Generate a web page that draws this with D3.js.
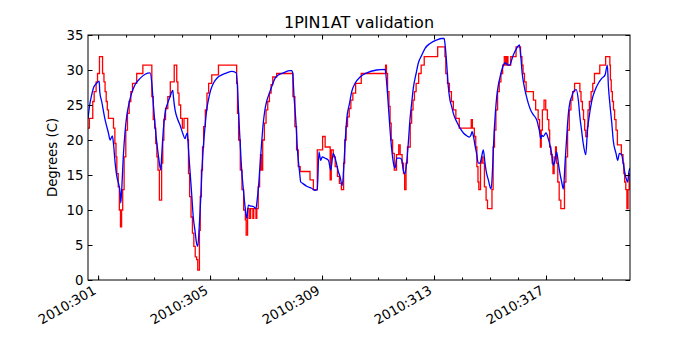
<!DOCTYPE html>
<html>
<head>
<meta charset="utf-8">
<script src="https://cdn.jsdelivr.net/npm/d3@7"></script>
<style>
  body { margin: 0; background: white; }
  text { font-family: "DejaVu Sans", sans-serif; }
</style>
</head>
<body>
<svg id="chart"></svg>
<script>
const svgWidth = 700;
const svgHeight = 350;

// observed temperature (red step line), [day of year, degrees C]
const observed = [
  [300.64, 21.7], [300.69, 23.1], [300.81, 25.5], [300.86, 26.9], [300.93, 28.3], [300.98, 29.5],
  [301.05, 31.9], [301.16, 29.5], [301.21, 28.3], [301.25, 26.9], [301.29, 25.5], [301.33, 24.3],
  [301.37, 23.1], [301.55, 21.7], [301.60, 19.5], [301.64, 17.6], [301.67, 15.2], [301.72, 13.3],
  [301.76, 10.0], [301.80, 7.6], [301.84, 10.0], [301.88, 12.9], [301.93, 17.6], [301.99, 21.4],
  [302.05, 23.8], [302.11, 25.5], [302.17, 26.9], [302.23, 28.1], [302.38, 29.5], [302.60, 30.7],
  [302.92, 26.2], [302.97, 22.9], [303.02, 21.7], [303.06, 19.5], [303.10, 17.6], [303.14, 15.7],
  [303.19, 11.4], [303.27, 16.7], [303.31, 20.0], [303.35, 22.9], [303.41, 24.5], [303.49, 26.2],
  [303.58, 28.3], [303.72, 30.7], [303.81, 28.3], [303.85, 26.7], [303.89, 25.0], [303.95, 23.1],
  [304.01, 21.7], [304.07, 23.1], [304.20, 20.0], [304.23, 15.2], [304.27, 11.9], [304.32, 9.0],
  [304.37, 6.7], [304.42, 4.8], [304.47, 3.3], [304.52, 2.9], [304.56, 1.4], [304.62, 7.1],
  [304.65, 11.9], [304.69, 15.7], [304.73, 19.0], [304.77, 21.9], [304.83, 24.3], [304.89, 26.7],
  [304.95, 28.1], [305.06, 29.3], [305.30, 30.7], [305.95, 28.1], [305.98, 23.8], [306.02, 20.0],
  [306.08, 15.7], [306.14, 12.9], [306.20, 10.0], [306.26, 8.6], [306.29, 6.4], [306.34, 10.2],
  [306.40, 8.8], [306.45, 10.2], [306.53, 8.8], [306.56, 10.2], [306.64, 8.8], [306.67, 10.2],
  [306.72, 13.3], [306.77, 15.7], [306.80, 17.9], [306.84, 15.7], [306.88, 20.0], [306.94, 22.4],
  [307.00, 24.3], [307.06, 25.5], [307.12, 26.7], [307.18, 27.9], [307.24, 29.0], [307.38, 29.5],
  [307.96, 26.2], [308.03, 21.9], [308.09, 18.6], [308.15, 16.2], [308.22, 15.5], [308.57, 14.3],
  [308.69, 12.9], [308.83, 18.6], [309.02, 20.5], [309.11, 19.0], [309.29, 14.3], [309.33, 18.6],
  [309.40, 17.6], [309.47, 16.2], [309.55, 14.8], [309.62, 13.8], [309.69, 12.9], [309.77, 16.7],
  [309.81, 20.0], [309.86, 21.9], [309.91, 23.3], [309.97, 24.5], [310.03, 25.7], [310.10, 26.7],
  [310.20, 28.1], [310.40, 29.5], [311.27, 30.7], [311.30, 29.5], [311.34, 26.9], [311.39, 24.8],
  [311.43, 22.4], [311.47, 20.0], [311.52, 18.1], [311.58, 15.7], [311.66, 17.9], [311.74, 19.3],
  [311.79, 17.9], [311.86, 16.7], [311.91, 15.2], [311.95, 12.9], [312.00, 16.7], [312.05, 19.0],
  [312.15, 22.4], [312.20, 24.3], [312.25, 25.7], [312.30, 26.9], [312.36, 28.1], [312.45, 29.5],
  [312.54, 30.7], [312.65, 31.9], [313.13, 33.3], [313.39, 31.9], [313.42, 29.5], [313.48, 28.1],
  [313.55, 26.9], [313.62, 25.5], [313.69, 24.3], [313.78, 23.1], [313.90, 21.7], [314.33, 22.9],
  [314.37, 21.7], [314.44, 20.5], [314.49, 19.0], [314.53, 16.2], [314.57, 14.0], [314.60, 12.9],
  [314.66, 16.7], [314.70, 17.6], [314.75, 16.7], [314.80, 13.3], [314.86, 11.4], [314.91, 10.2],
  [315.07, 12.9], [315.11, 19.0], [315.16, 21.4], [315.21, 24.3], [315.27, 26.9], [315.33, 28.3],
  [315.39, 29.5], [315.45, 30.7], [315.51, 31.9], [315.56, 30.7], [315.60, 31.9], [315.64, 30.7],
  [315.74, 31.9], [315.93, 33.3], [316.09, 31.9], [316.14, 30.7], [316.18, 29.5], [316.23, 28.3],
  [316.29, 26.9], [316.55, 25.7], [316.63, 24.3], [316.72, 22.9], [316.77, 21.4], [316.80, 19.0],
  [316.83, 21.4], [316.87, 24.3], [316.93, 25.7], [316.99, 24.3], [317.05, 22.9], [317.10, 21.4],
  [317.13, 19.0], [317.17, 17.9], [317.22, 16.7], [317.25, 15.2], [317.29, 17.6], [317.34, 19.0],
  [317.37, 16.7], [317.42, 14.0], [317.47, 11.4], [317.53, 10.2], [317.66, 14.0], [317.71, 17.6],
  [317.77, 21.4], [317.83, 24.3], [317.89, 25.7], [317.95, 26.9], [318.02, 28.1], [318.21, 26.9],
  [318.25, 25.5], [318.30, 24.3], [318.34, 22.9], [318.38, 21.4], [318.42, 20.5], [318.48, 21.9],
  [318.50, 24.3], [318.55, 25.5], [318.61, 26.9], [318.67, 28.1], [318.73, 29.5], [318.92, 30.7],
  [319.13, 31.9], [319.28, 30.7], [319.30, 28.6], [319.33, 26.9], [319.37, 25.5], [319.41, 24.3],
  [319.45, 22.9], [319.50, 21.4], [319.55, 19.3], [319.69, 17.9], [319.75, 16.7], [319.78, 15.2],
  [319.81, 14.0], [319.85, 12.9], [319.89, 10.2], [319.93, 12.9], [319.97, 15.2], [320.00, 15.2]
];

// model temperature (blue line)
const model = [
  [300.64, 23.0], [300.70, 25.0], [300.77, 26.4], [300.85, 27.6], [300.95, 28.1], [301.04, 28.4],
  [301.06, 26.9], [301.13, 25.5], [301.25, 22.9], [301.37, 21.0], [301.43, 20.0], [301.51, 20.6],
  [301.55, 19.5], [301.61, 16.7], [301.67, 14.8], [301.73, 13.8], [301.79, 12.4], [301.81, 11.0],
  [301.85, 13.3], [301.90, 17.6], [301.96, 21.0], [302.02, 23.3], [302.12, 25.5], [302.20, 26.7],
  [302.32, 27.9], [302.50, 28.8], [302.68, 29.4], [302.86, 29.6], [302.92, 28.1], [302.98, 24.8],
  [303.04, 21.9], [303.10, 19.5], [303.15, 17.9], [303.21, 16.2], [303.24, 15.7], [303.27, 17.6],
  [303.33, 21.4], [303.39, 23.8], [303.48, 25.2], [303.57, 26.2], [303.67, 27.1], [303.69, 26.2],
  [303.75, 24.3], [303.83, 23.1], [303.93, 22.1], [304.02, 21.0], [304.11, 20.2], [304.14, 20.6],
  [304.19, 21.0], [304.23, 18.6], [304.29, 15.2], [304.35, 11.9], [304.40, 9.0], [304.46, 7.1],
  [304.52, 5.2], [304.56, 4.8], [304.62, 8.1], [304.67, 11.9], [304.71, 15.7], [304.76, 19.0],
  [304.82, 21.9], [304.88, 24.3], [304.94, 25.7], [305.02, 27.1], [305.12, 28.1], [305.26, 28.9],
  [305.42, 29.3], [305.60, 29.6], [305.77, 29.8], [305.93, 29.6], [305.98, 27.6], [306.02, 23.8],
  [306.07, 20.0], [306.13, 15.7], [306.19, 12.9], [306.25, 10.5], [306.31, 8.8], [306.37, 10.7],
  [306.43, 10.6], [306.55, 10.5], [306.64, 10.2], [306.67, 11.0], [306.73, 13.3], [306.79, 16.7],
  [306.85, 20.0], [306.90, 22.4], [306.96, 24.3], [307.02, 25.5], [307.12, 26.7], [307.20, 27.6],
  [307.32, 28.8], [307.44, 29.3], [307.62, 29.6], [307.86, 29.9], [307.92, 29.9], [307.95, 29.6],
  [308.00, 26.2], [308.07, 22.4], [308.12, 18.6], [308.19, 15.7], [308.24, 14.0], [308.31, 13.8],
  [308.45, 13.4], [308.63, 13.1], [308.75, 12.8], [308.83, 12.9], [308.89, 18.3], [308.95, 17.1],
  [309.01, 17.6], [309.11, 17.4], [309.23, 17.1], [309.31, 15.7], [309.40, 18.1], [309.50, 16.9],
  [309.58, 15.5], [309.64, 14.8], [309.72, 13.5], [309.79, 17.1], [309.83, 20.0], [309.88, 22.9],
  [309.98, 25.2], [310.06, 26.9], [310.18, 28.1], [310.36, 29.0], [310.60, 29.6], [310.95, 30.0],
  [311.25, 30.1], [311.31, 28.1], [311.37, 24.8], [311.43, 21.4], [311.49, 18.6], [311.55, 16.7],
  [311.61, 16.0], [311.67, 17.4], [311.79, 17.4], [311.85, 17.1], [311.90, 15.7], [311.96, 15.2],
  [312.02, 16.7], [312.08, 19.5], [312.14, 22.9], [312.20, 25.2], [312.26, 27.4], [312.36, 29.5],
  [312.44, 31.0], [312.56, 32.1], [312.68, 33.1], [312.86, 33.8], [313.10, 34.3], [313.27, 34.5],
  [313.36, 34.5], [313.39, 33.8], [313.45, 31.0], [313.51, 27.6], [313.57, 25.7], [313.63, 24.8],
  [313.69, 23.8], [313.81, 22.6], [313.93, 21.7], [314.05, 21.0], [314.17, 20.6], [314.26, 20.4],
  [314.32, 20.7], [314.36, 21.2], [314.41, 20.5], [314.46, 19.3], [314.52, 18.1], [314.58, 16.7],
  [314.64, 16.7], [314.70, 17.6], [314.76, 18.6], [314.82, 16.7], [314.88, 15.2], [314.94, 14.3],
  [315.00, 13.3], [315.04, 13.0], [315.10, 16.7], [315.14, 20.5], [315.19, 23.8], [315.24, 26.2],
  [315.30, 27.9], [315.36, 29.0], [315.42, 30.0], [315.48, 30.7], [315.54, 31.0], [315.66, 30.7],
  [315.71, 30.7], [315.77, 31.4], [315.83, 32.1], [315.95, 33.1], [316.05, 33.6], [316.10, 31.9],
  [316.15, 29.5], [316.21, 27.9], [316.29, 26.4], [316.37, 25.2], [316.45, 24.3], [316.55, 23.6],
  [316.64, 23.1], [316.69, 22.6], [316.73, 21.9], [316.76, 21.4], [316.81, 20.2], [316.85, 20.7],
  [316.90, 20.5], [317.00, 21.0], [317.08, 20.2], [317.14, 19.3], [317.20, 18.1], [317.26, 16.4],
  [317.32, 17.1], [317.38, 18.3], [317.44, 16.7], [317.50, 15.2], [317.56, 14.0], [317.62, 13.0],
  [317.68, 16.7], [317.74, 20.5], [317.80, 23.8], [317.86, 25.5], [317.92, 26.2], [317.98, 26.9],
  [318.08, 27.2], [318.16, 25.5], [318.21, 23.3], [318.27, 21.4], [318.33, 19.5], [318.42, 17.9],
  [318.48, 21.4], [318.54, 23.3], [318.63, 25.5], [318.75, 27.1], [318.87, 28.1], [318.99, 28.8],
  [319.11, 29.3], [319.19, 30.7], [319.23, 27.6], [319.29, 24.8], [319.35, 22.4], [319.40, 20.0],
  [319.50, 18.1], [319.56, 17.1], [319.62, 18.1], [319.70, 17.9], [319.76, 16.7], [319.82, 15.2],
  [319.88, 14.3], [319.92, 14.0], [319.95, 15.2], [320.00, 16.0]
];

const xDomain = [300.64, 320.0];
const majorDays = [301, 305, 309, 313, 317];
const minorDays = d3.range(301, 320);
const yTicks = [0, 5, 10, 15, 20, 25, 30, 35];

const plotLeft = 88, plotRight = 630, plotTop = 35, plotBottom = 280;

const svg = d3.select('#chart')
    .attr('width', svgWidth)
    .attr('height', svgHeight);

svg.append('rect')
    .attr('width', svgWidth)
    .attr('height', svgHeight)
    .attr('fill', 'white');

const x = d3.scaleLinear().domain(xDomain).range([plotLeft, plotRight]);
const y = d3.scaleLinear().domain([0, 35]).range([plotBottom, plotTop]);

svg.append('clipPath').attr('id', 'plotclip')
  .append('rect')
    .attr('x', plotLeft).attr('y', plotTop)
    .attr('width', plotRight - plotLeft).attr('height', plotBottom - plotTop);

const plot = svg.append('g').attr('clip-path', 'url(#plotclip)');

const redLine = d3.line()
    .x(d => x(d[0]))
    .y(d => y(d[1]))
    .curve(d3.curveStepAfter);

const blueLine = d3.line()
    .x(d => x(d[0]))
    .y(d => y(d[1]))
    .curve(d3.curveMonotoneX);

plot.append('path')
    .datum(observed)
    .attr('d', redLine)
    .attr('fill', 'none')
    .attr('stroke', '#ff0000')
    .attr('stroke-width', 1.3);

plot.append('path')
    .datum(model)
    .attr('d', blueLine)
    .attr('fill', 'none')
    .attr('stroke', '#0000ff')
    .attr('stroke-width', 1.3);

// ticks point inward, on all four sides
function cleanAxis(g) {
  g.select('.domain').remove();
  g.selectAll('line').attr('stroke', 'black').attr('stroke-width', 1);
}

svg.append('g')
    .attr('transform', `translate(0,${plotBottom})`)
    .call(d3.axisBottom(x).tickValues(minorDays).tickSize(-2.5).tickFormat(''))
    .call(cleanAxis);

svg.append('g')
    .attr('transform', `translate(0,${plotTop})`)
    .call(d3.axisTop(x).tickValues(minorDays).tickSize(-2.5).tickFormat(''))
    .call(cleanAxis);

svg.append('g')
    .attr('transform', `translate(0,${plotTop})`)
    .call(d3.axisTop(x).tickValues(majorDays).tickSize(-4.5).tickFormat(''))
    .call(cleanAxis);

const xAxis = svg.append('g')
    .attr('transform', `translate(0,${plotBottom})`)
    .call(d3.axisBottom(x).tickValues(majorDays).tickSize(-4.5).tickFormat(d => `2010:${d}`))
    .call(cleanAxis);

xAxis.selectAll('text')
    .attr('x', 0)
    .attr('y', 0)
    .attr('dy', 0)
    .attr('text-anchor', 'end')
    .attr('transform', 'translate(-1.6,13) rotate(-30)')
    .attr('font-size', 13.3)
    .attr('font-family', 'DejaVu Sans')
    .attr('fill', 'black');

const yAxis = svg.append('g')
    .attr('transform', `translate(${plotLeft},0)`)
    .call(d3.axisLeft(y).tickValues(yTicks).tickSize(-4.5).tickPadding(4.5))
    .call(cleanAxis);

yAxis.selectAll('text')
    .attr('font-size', 13.3)
    .attr('font-family', 'DejaVu Sans')
    .attr('fill', 'black');

svg.append('g')
    .attr('transform', `translate(${plotRight},0)`)
    .call(d3.axisRight(y).tickValues(yTicks).tickSize(-4.5).tickFormat(''))
    .call(cleanAxis);

svg.append('rect')
    .attr('x', plotLeft)
    .attr('y', plotTop)
    .attr('width', plotRight - plotLeft)
    .attr('height', plotBottom - plotTop)
    .attr('fill', 'none')
    .attr('stroke', 'black')
    .attr('stroke-width', 1);

svg.append('text')
    .text('1PIN1AT validation')
    .attr('x', (plotLeft + plotRight) / 2)
    .attr('y', 28)
    .attr('text-anchor', 'middle')
    .attr('font-size', 16)
    .attr('fill', 'black');

svg.append('text')
    .text('Degrees (C)')
    .attr('transform', `translate(57,${(plotTop + plotBottom) / 2}) rotate(-90)`)
    .attr('text-anchor', 'middle')
    .attr('font-size', 13.3)
    .attr('fill', 'black');
</script>
</body>
</html>
